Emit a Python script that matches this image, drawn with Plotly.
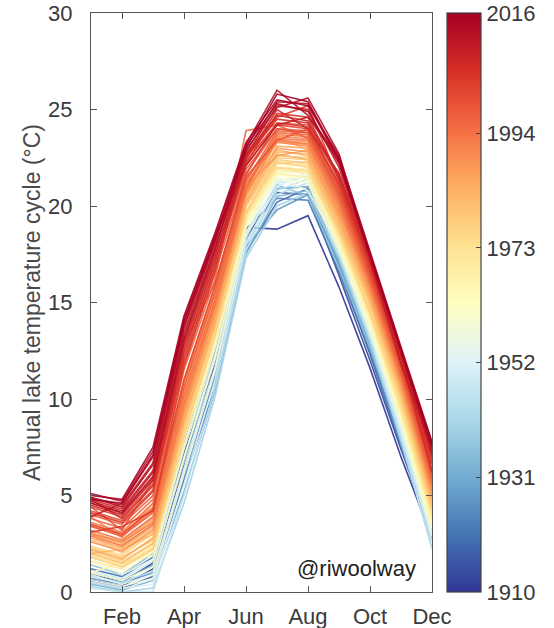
import plotly.graph_objects as go
from plotly.colors import get_colorscale, sample_colorscale

months = [1, 2, 3, 4, 5, 6, 7, 8, 9, 10, 11, 12]
month_tick_vals = [2, 4, 6, 8, 10, 12]
month_tick_text = ["Feb", "Apr", "Jun", "Aug", "Oct", "Dec"]
cbar_ticks = [1910, 1931, 1952, 1973, 1994, 2016]

years = [1910, 1913, 1918, 1921, 1926, 1929, 1933, 1936, 1940, 1943, 1946, 1949,
         1951, 1954, 1956, 1958, 1960, 1962, 1964, 1966, 1968, 1970, 1972, 1974,
         1975, 1976, 1977, 1978, 1979, 1980, 1981, 1982, 1983, 1984, 1985, 1986,
         1987, 1988, 1989, 1990, 1991, 1992, 1993, 1994, 1995, 1996, 1997, 1998,
         1999, 2000, 2001, 2002, 2003, 2004, 2005, 2006, 2007, 2008, 2009, 2010,
         2011, 2012, 2013, 2014, 2015, 2016]

temps = [
    [0.6, 0.3, 1.2, 6.5, 11.0, 18.9, 18.8, 19.5, 15.8, 11.6, 7.0, 2.8],
    [0.9, 0.5, 1.5, 7.2, 11.8, 18.4, 20.7, 20.6, 16.4, 12.0, 7.4, 3.0],
    [0.5, 0.2, 0.8, 5.8, 10.6, 17.6, 20.2, 20.9, 16.9, 12.3, 7.5, 2.9],
    [1.2, 0.8, 1.8, 7.8, 12.5, 18.8, 20.4, 20.3, 16.6, 12.4, 7.8, 3.2],
    [0.7, 0.4, 1.0, 6.0, 11.2, 17.9, 19.8, 20.6, 17.0, 12.6, 7.6, 2.6],
    [1.0, 0.6, 1.4, 6.8, 11.5, 18.2, 20.9, 21.0, 17.2, 12.8, 8.0, 3.1],
    [0.4, 0.1, 0.6, 5.2, 10.4, 17.5, 20.5, 20.8, 17.1, 12.9, 7.9, 2.7],
    [1.4, 0.9, 2.0, 7.5, 12.2, 18.6, 21.1, 20.5, 16.8, 12.7, 8.1, 3.3],
    [0.3, 0.0, 0.2, 4.6, 10.1, 17.3, 20.0, 20.7, 17.3, 13.0, 7.8, 2.3],
    [0.8, 0.5, 1.1, 6.2, 11.4, 18.0, 20.6, 21.2, 17.5, 13.1, 8.2, 2.9],
    [0.2, 0.0, 0.0, 5.0, 10.6, 17.7, 20.8, 21.4, 17.6, 13.2, 8.0, 2.2],
    [1.1, 0.7, 1.6, 7.0, 12.0, 18.5, 21.2, 21.5, 17.8, 13.4, 8.4, 3.2],
    [0.5, 0.2, 0.4, 5.6, 11.0, 18.1, 21.0, 21.8, 17.9, 13.5, 8.3, 2.6],
    [0.9, 0.4, 0.9, 6.4, 11.6, 18.4, 21.3, 21.6, 18.0, 13.6, 8.6, 3.0],
    [1.8, 0.9, 1.7, 7.4, 12.6, 18.9, 21.5, 20.8, 17.9, 13.7, 8.7, 3.4],
    [0.6, 0.3, 0.7, 6.1, 11.5, 18.6, 21.7, 21.9, 18.2, 13.8, 8.8, 2.9],
    [1.5, 1.0, 2.1, 7.9, 13.0, 19.2, 21.4, 21.2, 17.7, 13.5, 8.9, 3.6],
    [1.0, 0.6, 1.3, 6.9, 12.2, 18.9, 21.8, 21.7, 18.1, 13.9, 9.0, 3.3],
    [1.8, 1.3, 2.4, 8.2, 13.2, 19.4, 21.6, 21.4, 18.0, 14.0, 9.1, 3.7],
    [1.0, 1.5, 1.9, 7.6, 12.8, 19.1, 21.9, 22.3, 18.3, 14.1, 9.2, 3.5],
    [2.0, 1.5, 2.6, 8.5, 13.5, 19.6, 21.7, 21.5, 18.2, 14.2, 9.3, 3.9],
    [1.6, 1.2, 2.2, 8.0, 13.1, 19.3, 22.0, 21.9, 18.4, 14.3, 9.4, 3.8],
    [2.2, 1.7, 2.8, 8.7, 13.7, 19.8, 21.9, 21.7, 18.5, 14.4, 9.5, 4.0],
    [1.9, 1.4, 2.3, 8.3, 13.4, 19.5, 22.2, 22.1, 18.6, 14.5, 9.6, 4.1],
    [2.4, 1.9, 3.0, 9.0, 14.0, 20.0, 22.0, 21.8, 18.6, 14.6, 9.8, 4.3],
    [2.1, 1.6, 2.5, 8.4, 13.6, 19.7, 22.3, 22.0, 18.7, 14.7, 9.9, 4.2],
    [3.0, 2.0, 3.1, 9.2, 14.2, 20.1, 22.2, 22.3, 18.9, 14.4, 10.0, 5.0],
    [1.8, 1.3, 2.2, 8.1, 13.3, 19.6, 22.5, 22.4, 19.0, 14.9, 10.1, 4.4],
    [2.3, 1.8, 2.7, 8.8, 13.9, 20.2, 22.4, 22.2, 18.8, 15.0, 10.2, 4.6],
    [2.7, 2.2, 3.3, 9.4, 14.4, 20.3, 22.6, 22.5, 19.1, 15.1, 10.3, 4.7],
    [2.0, 1.5, 2.5, 8.6, 13.8, 20.0, 22.8, 22.7, 19.2, 15.0, 10.2, 4.5],
    [2.9, 2.4, 3.5, 9.6, 14.6, 20.5, 22.7, 22.4, 19.0, 15.2, 10.4, 4.9],
    [2.0, 2.2, 3.0, 9.1, 14.1, 20.4, 23.6, 22.9, 19.4, 15.3, 11.0, 4.8],
    [3.0, 2.5, 3.7, 9.8, 14.8, 20.6, 22.9, 22.6, 19.3, 15.4, 10.6, 5.0],
    [2.2, 1.7, 2.8, 8.9, 14.0, 20.2, 23.1, 23.0, 19.5, 15.3, 10.5, 4.9],
    [3.1, 2.6, 3.8, 10.0, 15.0, 20.8, 23.0, 22.8, 19.4, 15.5, 10.7, 5.2],
    [2.8, 2.3, 3.4, 9.5, 14.5, 20.7, 23.3, 23.2, 19.7, 15.6, 10.8, 5.1],
    [3.9, 2.8, 4.6, 10.3, 15.2, 21.0, 22.6, 22.9, 19.6, 16.4, 10.9, 5.9],
    [2.6, 2.1, 3.2, 9.3, 14.4, 20.6, 23.4, 23.3, 19.8, 15.6, 10.8, 5.2],
    [3.4, 2.9, 4.2, 10.5, 15.4, 21.1, 23.3, 23.1, 19.9, 15.8, 11.0, 5.5],
    [3.0, 2.6, 3.6, 9.9, 14.9, 20.9, 23.6, 23.5, 20.0, 15.9, 11.1, 5.4],
    [3.5, 3.0, 4.4, 10.8, 15.6, 21.2, 23.4, 23.2, 20.1, 16.0, 11.2, 5.6],
    [2.9, 2.4, 3.5, 9.7, 14.8, 20.8, 23.7, 23.6, 20.2, 15.9, 11.1, 5.5],
    [3.6, 3.1, 4.6, 11.0, 15.8, 21.4, 23.5, 23.4, 20.3, 16.1, 11.3, 5.8],
    [3.2, 2.7, 3.9, 10.2, 15.1, 21.0, 23.8, 23.7, 20.4, 16.2, 11.4, 5.7],
    [3.8, 3.3, 4.8, 11.5, 16.2, 23.9, 24.2, 23.5, 20.6, 16.3, 11.5, 6.0],
    [3.4, 2.9, 4.1, 10.6, 15.5, 21.3, 23.9, 23.8, 20.5, 16.2, 11.4, 5.9],
    [4.0, 3.5, 5.0, 11.8, 16.5, 21.7, 24.0, 23.9, 20.8, 16.4, 11.6, 6.2],
    [4.4, 3.2, 5.8, 12.9, 16.0, 21.5, 23.4, 24.0, 20.9, 16.9, 11.7, 6.1],
    [4.2, 3.7, 5.3, 12.2, 16.9, 21.9, 24.0, 23.8, 20.7, 16.6, 11.8, 6.4],
    [3.5, 3.0, 4.3, 11.0, 15.9, 21.6, 24.3, 24.2, 21.0, 16.5, 11.7, 6.3],
    [4.4, 3.9, 5.6, 12.6, 17.2, 22.1, 24.2, 24.0, 21.1, 16.7, 11.9, 6.6],
    [3.1, 3.4, 4.2, 11.7, 16.6, 22.6, 24.6, 25.2, 21.3, 16.8, 12.4, 7.1],
    [4.6, 4.1, 5.9, 13.0, 17.5, 22.3, 24.3, 24.1, 21.2, 16.9, 12.0, 6.8],
    [4.1, 3.6, 5.2, 12.0, 16.8, 22.2, 24.8, 24.6, 21.5, 17.0, 12.1, 6.7],
    [4.8, 4.3, 6.3, 13.5, 17.9, 22.5, 24.5, 24.3, 21.4, 17.1, 12.2, 7.0],
    [4.8, 3.8, 5.5, 12.4, 17.1, 22.4, 25.0, 24.0, 21.7, 17.4, 12.1, 6.2],
    [4.9, 4.5, 6.7, 13.8, 18.2, 22.7, 24.7, 24.4, 21.6, 17.2, 12.3, 7.2],
    [4.5, 4.0, 5.8, 12.8, 17.4, 22.6, 25.2, 25.0, 22.0, 17.3, 12.4, 7.1],
    [3.9, 4.6, 7.0, 14.0, 18.4, 22.1, 24.2, 24.6, 22.4, 17.2, 11.8, 7.4],
    [4.7, 4.2, 6.2, 13.3, 17.8, 22.8, 25.4, 25.3, 22.3, 17.4, 12.5, 7.3],
    [5.1, 4.7, 7.3, 14.2, 18.5, 23.2, 26.0, 24.7, 22.5, 17.5, 12.6, 7.6],
    [4.6, 4.1, 6.0, 13.1, 17.7, 22.9, 25.1, 25.6, 22.7, 17.4, 12.4, 7.5],
    [4.9, 4.4, 6.6, 13.7, 18.1, 23.1, 25.3, 24.9, 22.2, 17.5, 12.6, 7.7],
    [5.0, 4.8, 7.5, 14.3, 18.6, 23.3, 25.5, 25.2, 22.6, 17.6, 12.7, 7.8],
    [4.8, 4.6, 7.1, 14.0, 18.3, 23.0, 25.8, 25.4, 22.4, 17.5, 12.5, 7.6],
]

YMIN, YMAX = 1910, 2016
scale = get_colorscale("RdYlBu_r")
FONT = "Liberation Sans, Arial, sans-serif"
TXT = "#3a3a3a"

fig = go.Figure()
for yr, vals in zip(years, temps):
    col = sample_colorscale(scale, [(yr - YMIN) / (YMAX - YMIN)])[0]
    fig.add_trace(go.Scatter(x=months, y=vals, mode="lines",
                             line=dict(color=col, width=1.6),
                             opacity=0.9, showlegend=False, hoverinfo="skip"))

fig.add_trace(go.Scatter(
    x=[None], y=[None], mode="markers", showlegend=False, hoverinfo="skip",
    marker=dict(color=[YMIN], colorscale="RdYlBu_r", cmin=YMIN, cmax=YMAX,
                showscale=True,
                colorbar=dict(x=1.044, xanchor="left", y=0.5, yanchor="middle",
                              len=1, lenmode="fraction", thickness=34,
                              xpad=0, ypad=0, outlinewidth=1.2, outlinecolor="#444",
                              tickvals=cbar_ticks, ticks="inside", ticklen=5,
                              tickcolor="#444",
                              tickfont=dict(family=FONT, size=22, color=TXT)))))

fig.add_annotation(text="@riwoolway", xref="paper", yref="paper", x=0.96, y=0.041,
                   xanchor="right", yanchor="middle", showarrow=False,
                   font=dict(family=FONT, size=22, color="#222"))

fig.update_layout(
    width=554, height=628,
    margin=dict(l=91, r=122, t=13, b=36, autoexpand=False),
    paper_bgcolor="white", plot_bgcolor="white",
    font=dict(family=FONT, color=TXT),
    xaxis=dict(range=[1, 12], tickvals=month_tick_vals, ticktext=month_tick_text,
               showgrid=False, zeroline=False, showline=True, linecolor="#555",
               linewidth=1.2, mirror="ticks", ticks="inside", ticklen=6,
               tickcolor="#555", automargin=False, ticklabelstandoff=4,
               tickfont=dict(family=FONT, size=22, color=TXT)),
    yaxis=dict(range=[0, 30], tickvals=[0, 5, 10, 15, 20, 25, 30],
               showgrid=False, zeroline=False, showline=True, linecolor="#555",
               linewidth=1.2, mirror="ticks", ticks="inside", ticklen=6,
               tickcolor="#555", automargin=False, ticklabelstandoff=13,
               tickfont=dict(family=FONT, size=22, color=TXT),
               title=dict(text="Annual lake temperature cycle (°C)", standoff=0,
                          font=dict(family=FONT, size=23, color="#4a4a4a"))),
)

fig.write_html("out.html")
